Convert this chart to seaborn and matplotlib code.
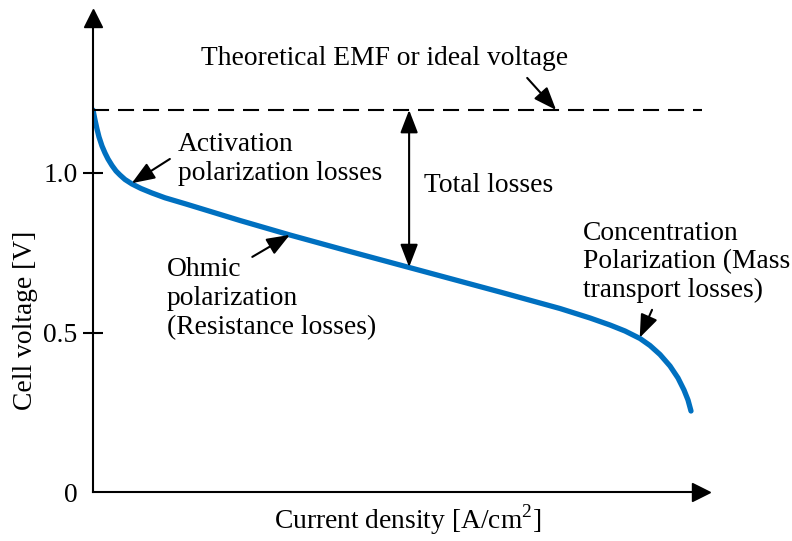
import matplotlib
matplotlib.use("Agg")
import matplotlib.pyplot as plt
import seaborn as sns
import pandas as pd

# polarization curve
current = [0, 0.00325, 0.0065, 0.00976, 0.01463, 0.01951, 0.02439, 0.03089, 0.0374,
           0.0439, 0.05203, 0.06341, 0.07805, 0.09593, 0.11707, 0.15122, 0.23902,
           0.32033, 0.41789, 0.49919, 0.58049, 0.66179, 0.75935, 0.80813, 0.84065,
           0.86504, 0.88943, 0.90569, 0.92195, 0.93821, 0.95122, 0.96098, 0.96748,
           0.97236]
voltage = [1.1975, 1.1661, 1.1379, 1.1129, 1.0846, 1.0627, 1.0439, 1.0235, 1.0063,
           0.9937, 0.9796, 0.9655, 0.9514, 0.9373, 0.9223, 0.9028, 0.8511,
           0.8056, 0.7539, 0.7116, 0.6693, 0.6270, 0.5752, 0.5455, 0.5235,
           0.5047, 0.4812, 0.4592, 0.4310, 0.3950, 0.3574, 0.3197, 0.2884,
           0.2539]
ideal_voltage = 1.1975
yticks = [0, 0.5, 1.0]
ytick_labels = ["0", "0.5", "1.0"]

sns.set_style("white")
plt.rcParams["font.family"] = ["Liberation Serif", "DejaVu Serif"]
plt.rcParams["mathtext.fontset"] = "custom"
plt.rcParams["mathtext.rm"] = "Liberation Serif"
plt.rcParams["text.color"] = "black"
plt.rcParams["ytick.color"] = "black"
plt.rcParams["ytick.labelcolor"] = "black"
fs = 19.8

df = pd.DataFrame({"current": current, "voltage": voltage})

fig = plt.figure(figsize=(7.92, 5.41), dpi=100)
ax = fig.add_axes([93 / 792, 49 / 541, 608 / 792, 474 / 541])

sns.lineplot(data=df, x="current", y="voltage", ax=ax, color="#0070C0", lw=3.8,
             solid_capstyle="round", solid_joinstyle="round", sort=False)

ax.set_xlim(0, 608 / 615)
ax.set_ylim(0, 474 / 319)

# axes drawn as arrows
for s in ["top", "right"]:
    ax.spines[s].set_visible(False)
for s in ["left", "bottom"]:
    ax.spines[s].set_linewidth(1.5)
    ax.spines[s].set_color("black")
ax.plot(1, 0, ">", color="black", ms=12.5, transform=ax.transAxes, clip_on=False)
ax.plot(0, 1, "^", color="black", ms=12.5, transform=ax.transAxes, clip_on=False)

ax.set_xticks([])
ax.set_yticks(yticks)
ax.set_yticklabels(ytick_labels, fontsize=fs, color="black")
ax.tick_params(axis="y", direction="inout", length=14, width=1.5, pad=4, left=True)
ax.yaxis.get_major_ticks()[0].tick1line.set_visible(False)
ax.set_xlabel("")
ax.set_ylabel("")

fig.text(26 / 792, 1 - 320 / 541, "Cell voltage [V]", rotation=90, fontsize=fs,
         ha="center", va="center")
fig.text(408 / 792, 1 - 520 / 541, "Current density [A/cm$^2$]", fontsize=fs,
         ha="center", va="center")

# ideal voltage line
ax.plot([0, 0.99], [ideal_voltage, ideal_voltage], color="black", lw=1.5,
        dashes=(7.7, 4.3), clip_on=False)

arr = dict(arrowstyle="-|>,head_length=0.7,head_width=0.27", color="black",
           lw=1.5, mutation_scale=20, shrinkA=0, shrinkB=0)

ax.text(0.176, 1.360, "Theoretical EMF or ideal voltage", fontsize=fs,
        ha="left", va="center")
ax.annotate("", xy=(0.753, ideal_voltage), xytext=(0.706, 1.298), arrowprops=arr)

ax.text(0.138, 1.045, "Activation\npolarization losses", fontsize=fs,
        ha="left", va="center")
ax.annotate("", xy=(0.063, 0.968), xytext=(0.125, 1.044), arrowprops=arr)

ax.text(0.12, 0.606, "Ohmic\npolarization\n(Resistance losses)", fontsize=fs,
        ha="left", va="center")
ax.annotate("", xy=(0.320, 0.806), xytext=(0.259, 0.737), arrowprops=arr)

ax.text(0.538, 0.962, "Total losses", fontsize=fs, ha="left", va="center")
arr2 = dict(arr, arrowstyle="<|-|>,head_length=0.7,head_width=0.27")
ax.annotate("", xy=(0.514, 0.705), xytext=(0.514, ideal_voltage), arrowprops=arr2)

ax.text(0.797, 0.721, "Concentration\nPolarization (Mass\ntransport losses)",
        fontsize=fs, ha="left", va="center")
ax.annotate("", xy=(0.889, 0.484), xytext=(0.909, 0.571), arrowprops=arr)

fig.savefig("out.png", dpi=100)
